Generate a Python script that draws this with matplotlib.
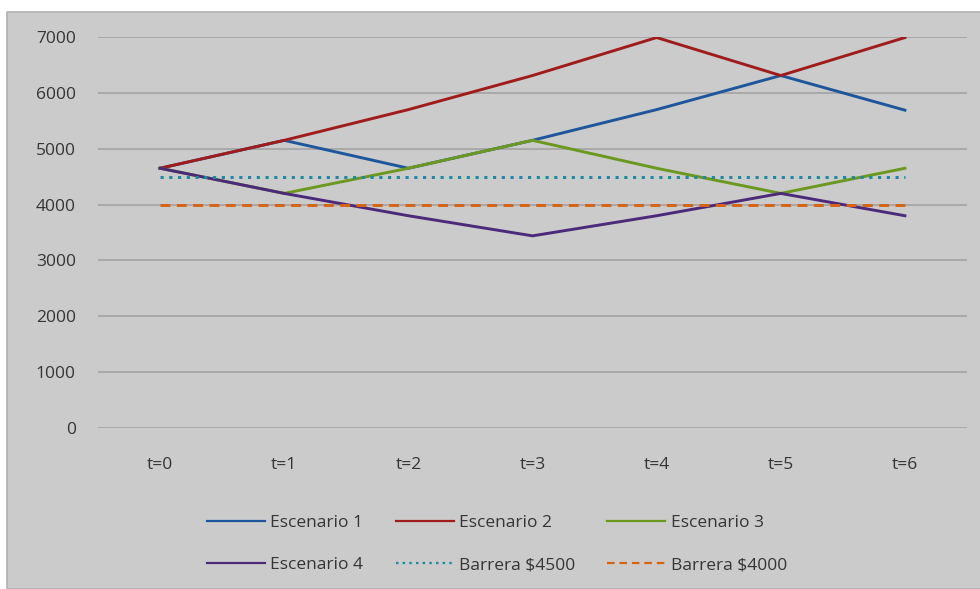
import matplotlib.pyplot as plt
from matplotlib.patches import Rectangle
from matplotlib.lines import Line2D

plt.rcParams['font.family'] = ['Open Sans', 'DejaVu Sans']

periods = ["t=0", "t=1", "t=2", "t=3", "t=4", "t=5", "t=6"]
escenario1 = [4650, 5150, 4650, 5150, 5700, 6310, 5690]
escenario2 = [4650, 5150, 5700, 6310, 6990, 6310, 6990]
escenario3 = [4650, 4200, 4650, 5150, 4650, 4200, 4650]
escenario4 = [4650, 4200, 3800, 3440, 3800, 4200, 3800]
barrera4500 = [4500] * 7
barrera4000 = [4000] * 7

text_col = '#353535'
dotted = (0, (1.1, 1.9))
dashed = (0, (3.4, 2.2))

fig = plt.figure(figsize=(9.8, 5.89), dpi=100, facecolor='white')
# chart area background
fig.patches.append(Rectangle((7 / 980, 0), 1, 1 - 12 / 589, transform=fig.transFigure,
                             facecolor='#cbcbcb', edgecolor='#b0b0b0', linewidth=1.2, zorder=-5))

ax = fig.add_axes([98 / 980, 1 - 428 / 589, (967 - 98) / 980, (428 - 37) / 589])
ax.set_facecolor('none')
ax.set_zorder(2)

x = list(range(len(periods)))
series = [
    (escenario1, '#1d569c', '-', 'Escenario 1'),
    (escenario2, '#a01c1c', '-', 'Escenario 2'),
    (escenario3, '#6b981f', '-', 'Escenario 3'),
    (escenario4, '#4b2a79', '-', 'Escenario 4'),
    (barrera4500, '#1b8a9e', dotted, 'Barrera $4500'),
    (barrera4000, '#d9640f', dashed, 'Barrera $4000'),
]
for vals, col, ls, lab in series:
    ax.plot(x, vals, color=col, lw=2.1, linestyle=ls, label=lab, zorder=3)

ax.set_xlim(-0.5, len(periods) - 0.5)
ax.set_ylim(0, 7000)
ax.set_yticks(range(0, 7001, 1000))
ax.set_xticks(x)
ax.set_xticklabels(periods)
ax.yaxis.grid(True, color='#a6a6a6', linewidth=1.3)
ax.set_axisbelow(True)
for s in ax.spines.values():
    s.set_visible(False)
ax.tick_params(axis='both', length=0, labelsize=12.5, labelcolor=text_col)
ax.tick_params(axis='y', pad=16)
ax.tick_params(axis='x', pad=21)

# legend laid out row by row like the original (matplotlib fills columns first)
order = [0, 3, 1, 4, 2, 5]
leg_handles = [Line2D([], [], color=series[i][1], lw=1.6, linestyle=series[i][2]) for i in order]
fig.legend(leg_handles, [series[i][3] for i in order], ncol=3, loc='center',
           bbox_to_anchor=(497 / 980, 1 - 544 / 589), frameon=False,
           fontsize=12.5, labelcolor=text_col, handlelength=3.35, handletextpad=0.3,
           columnspacing=1.85, labelspacing=1.5)

fig.savefig('out.png', dpi=100, facecolor='white')
